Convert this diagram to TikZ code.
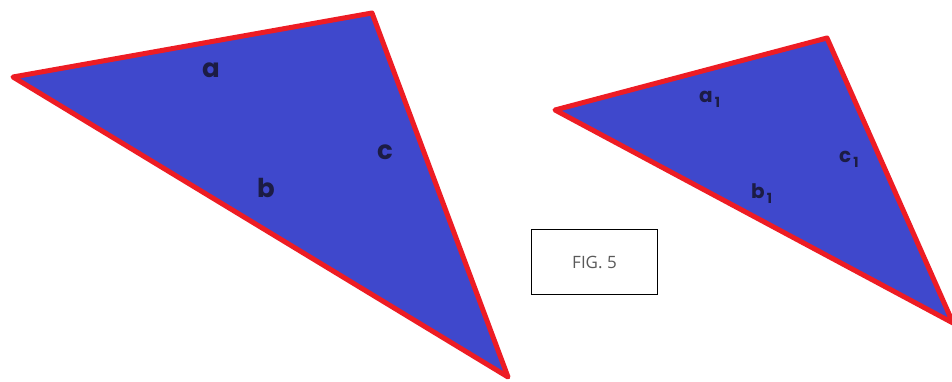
\documentclass[tikz,border=0pt]{standalone}
\usepackage{fontspec}
\setmainfont{Poppins}
\newfontfamily\figfont{Open Sans}
\definecolor{triblue}{HTML}{3F48CC}
\definecolor{trired}{HTML}{ED1C24}
\definecolor{labink}{HTML}{1C1C44}
\newcommand{\subone}{\hspace{2pt}\raisebox{-5pt}{\fontsize{14}{14}\selectfont 1}}
\begin{document}
\begin{tikzpicture}[x=1pt,y=-1pt,
  tri/.style={fill=triblue,draw=trired,line width=5pt,line join=round},
  biglab/.style={text=labink,font=\fontsize{26}{26}\selectfont\bfseries,inner sep=0pt},
  smalllab/.style={text=labink,font=\fontsize{20}{20}\selectfont\bfseries,inner sep=0pt},
  figbox/.style={draw=black,line width=1.3pt,minimum width=126pt,minimum height=65pt,text=black!65,font=\figfont\fontsize{17}{17}\selectfont}]
\useasboundingbox (0,0) rectangle (952,382);
\clip (0,0) rectangle (952,382);
\coordinate (L1) at (13,77);
\coordinate (L2) at (372,13);
\coordinate (L3) at (508,377);
\draw[tri] (L1) -- (L2) -- (L3) -- cycle;
\coordinate (R1) at (555,110);
\coordinate (R2) at (827,38);
\coordinate (R3) at (953,323);
\draw[tri] (R1) -- (R2) -- (R3) -- cycle;
\node[biglab] (la) at (211,70) {a};
\node[biglab] (lb) at (266,188) {b};
\node[biglab] (lc) at (385,152) {c};
\node[smalllab,anchor=base west] (ra) at (699,103) {a\subone};
\node[smalllab,anchor=base west] (rb) at (751,198) {b\subone};
\node[smalllab,anchor=base west] (rc) at (839,163) {c\subone};
\node[figbox] (fig) at (594.5,262) {FIG. 5};
\end{tikzpicture}
\end{document}
